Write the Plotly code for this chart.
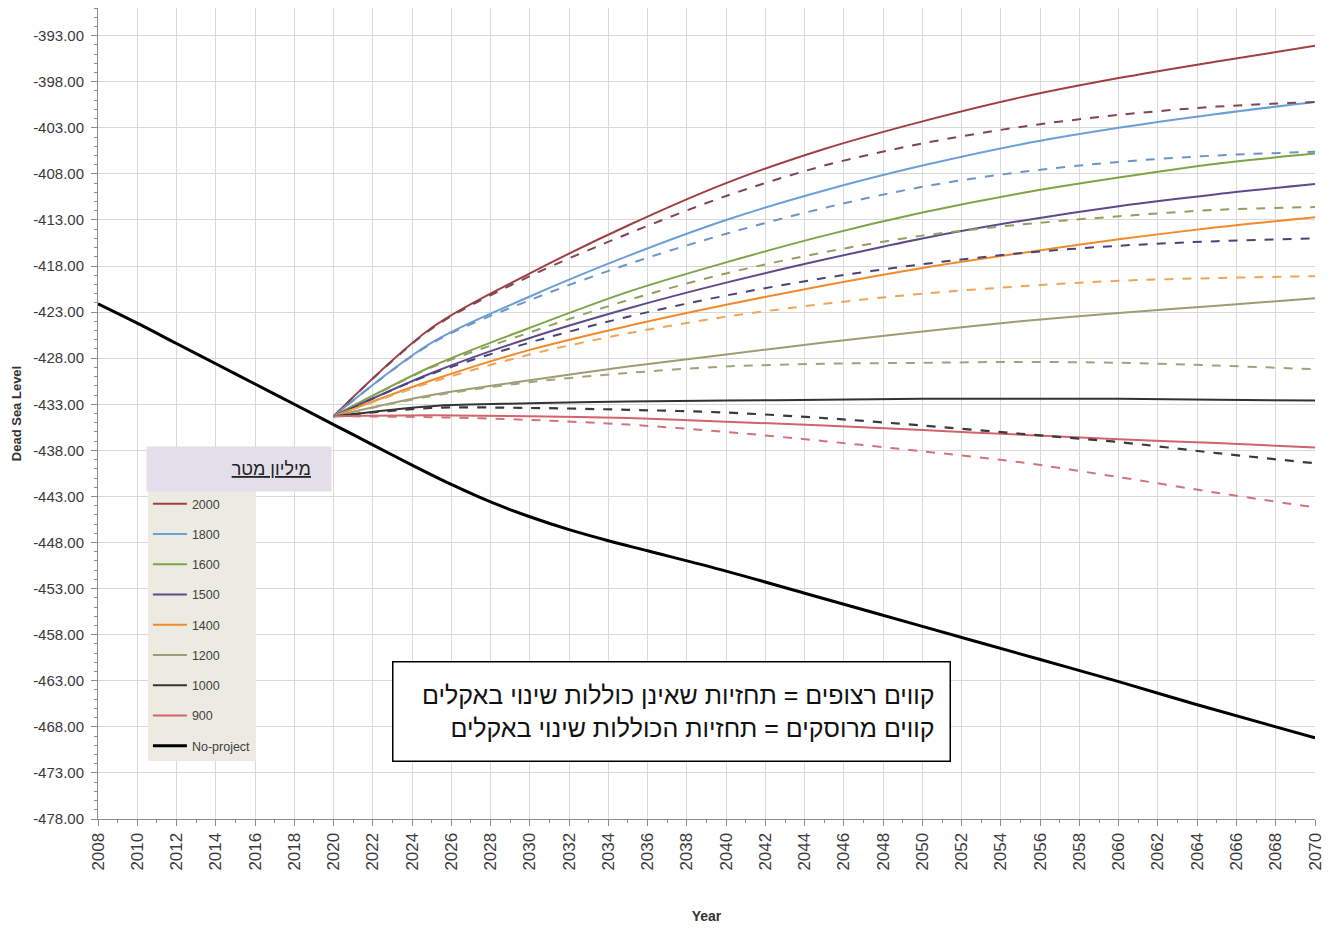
import plotly.graph_objects as go

# ---------------- data ----------------
years_hist = [2008, 2010, 2012, 2014, 2016, 2018, 2020, 2022, 2024, 2026, 2028, 2030,
              2032, 2034, 2036, 2040, 2044, 2050, 2056, 2060, 2064, 2070]
no_project = [-422.1, -424.2, -426.4, -428.6, -430.8, -433.0, -435.2, -437.4, -439.6,
              -441.7, -443.6, -445.2, -446.6, -447.8, -448.9, -451.1, -453.5, -457.1,
              -460.7, -463.1, -465.6, -469.2]

years_proj = [2020, 2025, 2030, 2035, 2040, 2045, 2050, 2055, 2060, 2065, 2070]

scenarios = ["2000", "1800", "1600", "1500", "1400", "1200", "1000", "900"]

solid_2000 = [-434.3, -424.7, -418.8, -413.6, -409.0, -405.3, -402.3, -399.7, -397.6, -395.8, -394.1]
solid_1800 = [-434.3, -426.3, -421.3, -416.9, -413.0, -409.8, -407.1, -404.8, -403.0, -401.5, -400.2]
solid_1600 = [-434.3, -428.9, -424.7, -420.8, -417.6, -414.7, -412.2, -410.1, -408.4, -406.9, -405.8]
solid_1500 = [-434.3, -429.6, -425.8, -422.6, -419.8, -417.3, -415.0, -413.1, -411.5, -410.2, -409.1]
solid_1400 = [-434.3, -430.4, -427.1, -424.5, -422.2, -420.1, -418.2, -416.6, -415.1, -413.8, -412.7]
solid_1200 = [-434.3, -432.0, -430.4, -428.9, -427.6, -426.3, -425.1, -424.0, -423.1, -422.3, -421.5]
solid_1000 = [-434.3, -433.2, -432.9, -432.7, -432.6, -432.5, -432.4, -432.4, -432.4, -432.5, -432.6]
solid_900 = [-434.3, -434.2, -434.3, -434.5, -434.9, -435.3, -435.8, -436.3, -436.8, -437.2, -437.7]

dashed_2000 = [-434.3, -424.8, -419.1, -414.5, -410.4, -407.1, -404.7, -402.9, -401.6, -400.7, -400.2]
dashed_1800 = [-434.3, -426.4, -421.7, -417.8, -414.5, -411.7, -409.4, -407.8, -406.7, -406.0, -405.6]
dashed_1600 = [-434.3, -429.0, -425.2, -421.7, -418.8, -416.5, -414.7, -413.5, -412.6, -411.9, -411.6]
dashed_1500 = [-434.3, -429.7, -426.3, -423.5, -421.2, -419.3, -417.8, -416.6, -415.8, -415.3, -415.0]
dashed_1400 = [-434.3, -430.6, -427.6, -425.3, -423.5, -422.1, -421.0, -420.2, -419.6, -419.3, -419.1]
dashed_1200 = [-434.3, -432.1, -430.6, -429.6, -428.9, -428.6, -428.5, -428.4, -428.5, -428.8, -429.2]
dashed_1000 = [-434.3, -433.4, -433.4, -433.6, -433.9, -434.5, -435.3, -436.2, -437.1, -438.3, -439.4]
dashed_900 = [-434.3, -434.4, -434.7, -435.2, -436.0, -437.0, -438.1, -439.3, -440.9, -442.6, -444.2]

solid_series = [solid_2000, solid_1800, solid_1600, solid_1500, solid_1400, solid_1200, solid_1000, solid_900]
dashed_series = [dashed_2000, dashed_1800, dashed_1600, dashed_1500, dashed_1400, dashed_1200, dashed_1000, dashed_900]

colors = ["#a03f42", "#6a9fd8", "#7fa346", "#5e4a8a", "#f08a2a", "#a09c72", "#333333", "#d2636b"]
dash_colors = ["#7e4650", "#6d94c8", "#8da25e", "#4b4275", "#f0a458", "#a3a27a", "#3a3a3a", "#d2737b"]

x_ticks = list(range(2008, 2071, 2))
y_ticks = list(range(-393, -479, -5))

# ---------------- figure ----------------
fig = go.Figure()

for name, vals, col in zip(scenarios, solid_series, colors):
    fig.add_trace(go.Scatter(x=years_proj, y=vals, mode="lines", name=name,
                             legendgroup=name, line=dict(color=col, width=2, shape="spline", smoothing=0.9)))

fig.add_trace(go.Scatter(x=years_hist, y=no_project, mode="lines", name="No-project",
                         legendgroup="No-project", line=dict(color="black", width=3, shape="spline", smoothing=0.9)))

for name, vals, col in zip(scenarios, dashed_series, dash_colors):
    fig.add_trace(go.Scatter(x=years_proj, y=vals, mode="lines", name=name + " (climate)",
                             legendgroup=name, showlegend=False,
                             line=dict(color=col, width=2.2 if name == "1000" else 2, dash="dash",
                                       shape="spline", smoothing=0.9)))

# page has an 8px body margin; work in screenshot pixels then convert
OFF = 8
W, H = 1333 - 2 * OFF, 932 - 2 * OFF
plot_left, plot_right, plot_top, plot_bottom = 98, 1317, 8, 819
L = plot_left - OFF
R = W - (plot_right - OFF)
T = plot_top - OFF
B = H - (plot_bottom - OFF)
pw, ph = W - L - R, H - T - B

def px_x(p):
    return (p - plot_left) / pw

def px_y(p):
    return (plot_bottom - p) / ph

fig.update_layout(
    width=W, height=H,
    margin=dict(l=L, r=R, t=T, b=B),
    paper_bgcolor="white", plot_bgcolor="white",
    font=dict(family="Liberation Sans, Arial, sans-serif", color="#404040"),
    showlegend=True,
    legend=dict(
        x=px_x(148), y=px_y(489), xanchor="left", yanchor="top",
        bgcolor="#ecebe2", borderwidth=0,
        font=dict(size=12.5, color="#404040"),
        traceorder="grouped", tracegroupgap=11,
        itemwidth=34,
    ),
    xaxis=dict(
        range=[2008, 2070], tickmode="array", tickvals=x_ticks,
        ticktext=[str(v) for v in x_ticks], tickangle=-90,
        ticklabeloverflow="allow",
        tickfont=dict(size=17, color="#3a3a3a"),
        showgrid=True, gridcolor="#d9d9d9", gridwidth=1,
        showline=True, linecolor="#8c8c8c", linewidth=1,
        ticks="outside", ticklen=6, tickcolor="#8c8c8c",
        minor=dict(dtick=1, ticks="outside", ticklen=3, tickcolor="#8c8c8c", showgrid=False),
        zeroline=False,
        title=dict(text="<b>Year</b>", font=dict(size=14, color="#333333"), standoff=43),
    ),
    yaxis=dict(
        range=[-478, -390], tickmode="array", tickvals=y_ticks,
        ticktext=["%.2f" % v for v in y_ticks],
        tickfont=dict(size=15, color="#3a3a3a"),
        showgrid=True, gridcolor="#d9d9d9", gridwidth=1,
        showline=True, linecolor="#8c8c8c", linewidth=1,
        ticks="outside", ticklen=6, tickcolor="#8c8c8c",
        ticklabelstandoff=4,
        minor=dict(dtick=1, ticks="outside", ticklen=3, tickcolor="#8c8c8c", showgrid=False),
        zeroline=False,
        title=dict(text="<b>Dead Sea Level</b>", font=dict(size=13, color="#333333"), standoff=8),
    ),
)

# legend header
fig.add_annotation(
    xref="paper", yref="paper", x=px_x(146), y=px_y(446), xanchor="left", yanchor="top",
    text="<u>מיליון מטר</u>&nbsp;&nbsp;&nbsp;&nbsp;", showarrow=False, align="right",
    width=184, height=44, bgcolor="#e3dfea", borderpad=0,
    font=dict(size=18, color="#222222", family="Liberation Sans, Arial, sans-serif"),
)

# explanation box
fig.add_annotation(
    xref="paper", yref="paper", x=px_x(392), y=px_y(661), xanchor="left", yanchor="top",
    text="קווים רצופים = תחזיות שאינן כוללות שינוי באקלים&nbsp;&nbsp;<br>קווים מרוסקים = תחזיות הכוללות שינוי באקלים&nbsp;&nbsp;",
    showarrow=False, align="right",
    width=554, height=96, bgcolor="white", bordercolor="black", borderwidth=1.5, borderpad=1,
    font=dict(size=25, color="#111111", family="Liberation Sans, Arial, sans-serif"),
)

fig.write_html("out.html")
